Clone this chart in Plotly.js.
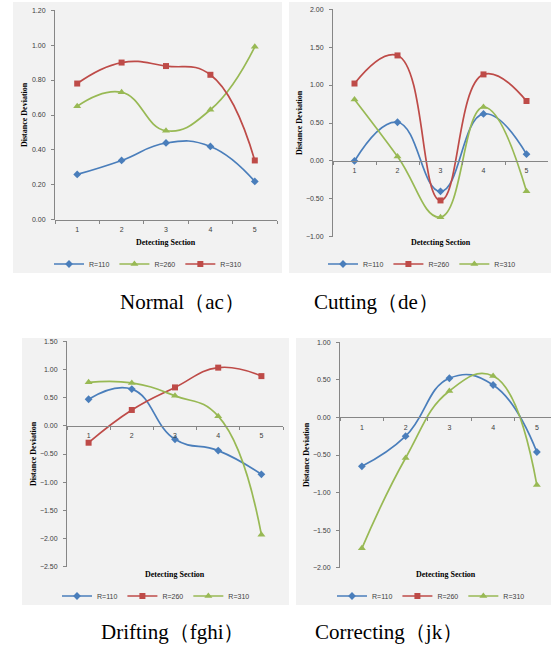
<!DOCTYPE html>
<html>
<head>
<meta charset="utf-8">
<script src="https://cdn.plot.ly/plotly-3.0.1.min.js"></script>
<style>
html,body{margin:0;padding:0;background:#fff;}
#chart{width:551px;height:655px;}
</style>
</head>
<body>
<div id="chart"></div>
<script>
// ---- data ----
const sections = ['1', '2', '3', '4', '5'];
const seriesNames = ['R=110', 'R=260', 'R=310'];

const normal110 = [0.26, 0.34, 0.44, 0.42, 0.22];
const normal260 = [0.65, 0.73, 0.51, 0.63, 0.99];
const normal310 = [0.78, 0.90, 0.88, 0.83, 0.34];

const cutting110 = [0.00, 0.51, -0.40, 0.62, 0.09];
const cutting260 = [1.02, 1.39, -0.52, 1.14, 0.79];
const cutting310 = [0.81, 0.06, -0.74, 0.71, -0.40];

const drifting110 = [0.47, 0.65, -0.24, -0.44, -0.86];
const drifting260 = [-0.30, 0.28, 0.68, 1.03, 0.88];
const drifting310 = [0.77, 0.76, 0.53, 0.17, -1.93];

const correcting110 = [-0.65, -0.25, 0.52, 0.43, -0.46];
const correcting260 = [null, null, null, null, null];
const correcting310 = [-1.74, -0.54, 0.35, 0.55, -0.90];

const captions = ['Normal（ac）', 'Cutting（de）', 'Drifting（fghi）', 'Correcting（jk）'];
const xTitle = 'Detecting Section';
const yTitle = 'Distance Deviation';

// ---- styles ----
const W = 551, H = 655;
const BLUE = '#4A7EBB', RED = '#BE4B48', GREEN = '#98B954';
const styles = {
  'R=110': {color: BLUE, symbol: 'diamond', size: 6},
  'R=260': {color: GREEN, symbol: 'triangle-up', size: 7},
  'R=310': {color: RED, symbol: 'square', size: 6}
};
const sansFont = 'Liberation Sans, Arial, sans-serif';
const serifFont = 'Liberation Serif, Times New Roman, serif';

function px(x) { return x / W; }
function py(y) { return 1 - y / H; }

// panel geometry (pixels)
const panels = [
  {bg: [13, 2, 282, 273], x: [55, 277], y: [10, 220], yr: [0, 1.2], dt: 0.2,
   ytitleX: 25, xtitleY: 242, legY: 264, legX: 148, capX: 182, capY: 302,
   series: [['R=110', normal110], ['R=260', normal260], ['R=310', normal310]], colors: {}},
  {bg: [289, 2, 551, 273], x: [333, 548], y: [9, 237], yr: [-1, 2], dt: 0.5,
   ytitleX: 300, xtitleY: 243, legY: 264, legX: 422, capX: 376, capY: 302,
   series: [['R=110', cutting110], ['R=260', cutting260], ['R=310', cutting310]],
   colors: {'R=260': {color: RED, symbol: 'square', size: 6}, 'R=310': {color: GREEN, symbol: 'triangle-up', size: 7}}},
  {bg: [22, 338, 289, 605], x: [67, 283], y: [341, 567], yr: [-2.5, 1.5], dt: 0.5,
   ytitleX: 33, xtitleY: 574, legY: 596, legX: 156, capX: 172, capY: 632,
   series: [['R=110', drifting110], ['R=260', drifting260], ['R=310', drifting310]],
   colors: {'R=260': {color: RED, symbol: 'square', size: 6}, 'R=310': {color: GREEN, symbol: 'triangle-up', size: 7}}},
  {bg: [296, 338, 551, 605], x: [340, 551], y: [342, 568], yr: [-2, 1], dt: 0.5, xr: [-0.5, 4.323],
   ytitleX: 307, xtitleY: 574, legY: 596, legX: 431, capX: 389, capY: 632,
   series: [['R=110', correcting110], ['R=260', correcting260], ['R=310', correcting310]],
   colors: {'R=260': {color: RED, symbol: 'square', size: 6}, 'R=310': {color: GREEN, symbol: 'triangle-up', size: 7}}}
];

const traces = [];
const layout = {
  width: W, height: H, autosize: false,
  margin: {l: 0, r: 0, t: 0, b: 0, pad: 0},
  paper_bgcolor: '#ffffff', plot_bgcolor: 'rgba(0,0,0,0)',
  shapes: [], annotations: [],
  font: {family: sansFont, size: 7, color: '#404040'}
};

panels.forEach((p, i) => {
  const n = i + 1;
  const xa = n === 1 ? 'x' : 'x' + n;
  const ya = n === 1 ? 'y' : 'y' + n;
  const lg = n === 1 ? 'legend' : 'legend' + n;
  const xKey = n === 1 ? 'xaxis' : 'xaxis' + n;
  const yKey = n === 1 ? 'yaxis' : 'yaxis' + n;

  p.series.forEach(([name, vals]) => {
    const st = p.colors[name] || styles[name];
    traces.push({
      type: 'scatter', mode: 'lines+markers', name: name,
      x: sections, y: vals, xaxis: xa, yaxis: ya, legend: lg,
      line: {color: st.color, width: 1.7, shape: 'spline', smoothing: 1.3},
      marker: {color: st.color, symbol: st.symbol, size: st.size},
      cliponaxis: false, connectgaps: false
    });
  });

  const yDom = [py(p.y[1]), py(p.y[0])];
  const span = p.yr[1] - p.yr[0];
  const zeroFrac = yDom[0] + (0 - p.yr[0]) / span * (yDom[1] - yDom[0]);
  const eps = span * 0.0005;

  layout[xKey] = {
    domain: [px(p.x[0]), px(p.x[1])],
    type: 'category',
    range: p.xr || [-0.5, 4.5],
    anchor: 'free', position: zeroFrac,
    showline: true, linecolor: '#868686', linewidth: 1,
    ticks: 'outside', ticklen: 3, tickcolor: '#868686', tickson: 'boundaries',
    showgrid: false, zeroline: false,
    tickfont: {family: sansFont, size: 7, color: '#404040'},
    ticklabelstandoff: 3,
    fixedrange: true
  };
  layout[yKey] = {
    domain: yDom,
    anchor: xa,
    range: [p.yr[0] - eps, p.yr[1] + eps],
    dtick: p.dt, tick0: 0, tickformat: '.2f',
    showline: true, linecolor: '#868686', linewidth: 1,
    ticks: 'outside', ticklen: 3, tickcolor: '#868686',
    showgrid: false, zeroline: false,
    tickfont: {family: sansFont, size: 7, color: '#404040'},
    ticklabelstandoff: 4,
    fixedrange: true
  };

  layout[lg] = {
    orientation: 'h', x: px(p.legX), xanchor: 'center',
    y: py(p.legY), yanchor: 'middle',
    font: {family: sansFont, size: 7, color: '#404040'},
    itemwidth: 30, tracegroupgap: 0, traceorder: 'normal',
    bgcolor: 'rgba(0,0,0,0)', borderwidth: 0
  };

  layout.shapes.push({
    type: 'rect', xref: 'paper', yref: 'paper', layer: 'below',
    x0: px(p.bg[0]), x1: px(p.bg[2]), y0: py(p.bg[3]), y1: py(p.bg[1]),
    fillcolor: '#F2F2F2', line: {width: 0}
  });

  layout.annotations.push({
    xref: 'paper', yref: 'paper', x: px(p.ytitleX), y: (yDom[0] + yDom[1]) / 2,
    text: '<b>' + yTitle + '</b>', textangle: -90, showarrow: false,
    xanchor: 'center', yanchor: 'middle',
    font: {family: serifFont, size: 8, color: '#000000'}
  });
  layout.annotations.push({
    xref: 'paper', yref: 'paper', x: (px(p.x[0]) + px(Math.min(p.x[1], p.x[0] + (p.xr ? 218.75 : (p.x[1]-p.x[0]))))) / 2, y: py(p.xtitleY),
    text: '<b>' + xTitle + '</b>', showarrow: false,
    xanchor: 'center', yanchor: 'middle',
    font: {family: serifFont, size: 8, color: '#000000'}
  });
  layout.annotations.push({
    xref: 'paper', yref: 'paper', x: px(p.capX), y: py(p.capY),
    text: captions[i], showarrow: false,
    xanchor: 'center', yanchor: 'middle',
    font: {family: serifFont, size: 21, color: '#000000'}
  });
});

Plotly.newPlot('chart', traces, layout, {displayModeBar: false, staticPlot: true});
</script>
</body>
</html>
